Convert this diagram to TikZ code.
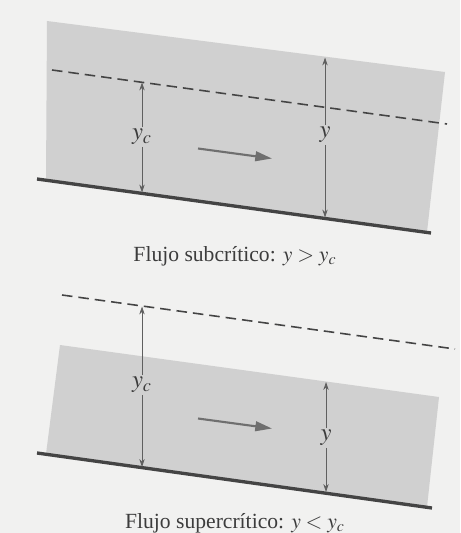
\documentclass[tikz,border=0pt]{standalone}
\usepackage{mathptmx}
\usepackage{fontspec}
\setmainfont{Liberation Serif}
\usetikzlibrary{arrows.meta}

\definecolor{paper}{RGB}{241,241,240}
\definecolor{water}{RGB}{208,208,208}
\definecolor{bedgray}{RGB}{68,68,68}
\definecolor{dimgray}{RGB}{95,95,95}
\definecolor{inkgray}{RGB}{60,60,60}

\tikzset{
	bed/.style={draw=bedgray,line width=1.9pt},
	critline/.style={draw=bedgray,line width=0.9pt,dash pattern=on 6pt off 3.4pt},
	dimline/.style={draw=dimgray,line width=0.45pt,-{Stealth[length=4.5pt,width=3pt]}},
	flow/.style={draw=dimgray!90,line width=1.2pt,-{Triangle[length=9.5pt,width=5.5pt]}},
	dimlabel/.style={fill=water,inner sep=1pt,text=inkgray,font=\fontsize{14}{16}\selectfont},
	caption/.style={anchor=base,text=inkgray,font=\fontsize{12.3}{14}\selectfont}
}

\begin{document}
\begin{tikzpicture}[x=0.02cm,y=-0.02cm]
	\fill[paper] (0,0) rectangle (460,533);
	\useasboundingbox (0,0) rectangle (460,533);

	% subcritico
	\fill[water] (47,21) -- (445,72) -- (427,232) -- (46,180) -- cycle;
	\draw[critline] (52,70) -- (447,124);
	\draw[bed] (37,179) -- (431,233);
	\coordinate (yc1top) at (142,82.5);
	\coordinate (yc1bot) at (142,192.5);
	\coordinate (y1top) at (325,57.5);
	\coordinate (y1bot) at (325,217.5);
	\node[dimlabel] (yc1) at (142,137) {$y_c$};
	\node[dimlabel] (y1) at (325,135) {$y$};
	\draw[dimline] (yc1) -- (yc1top);
	\draw[dimline] (yc1) -- (yc1bot);
	\draw[dimline] (y1) -- (y1top);
	\draw[dimline] (y1) -- (y1bot);
	\coordinate (f1a) at (198,148.5);
	\coordinate (f1b) at (272,158.5);
	\draw[flow] (f1a) -- (f1b);
	\node[caption] (cap1) at (235,261) {Flujo subcrítico: $y > y_c$};

	% supercritico
	\fill[water] (60,345) -- (439,397) -- (427,507) -- (46,454) -- cycle;
	\draw[critline] (62,295) -- (455,349);
	\draw[bed] (37,453) -- (432,508);
	\coordinate (yc2top) at (142,306.5);
	\coordinate (yc2bot) at (142,467);
	\coordinate (y2top) at (326,382);
	\coordinate (y2bot) at (326,492);
	\node[dimlabel] (yc2) at (142,385) {$y_c$};
	\node[dimlabel] (y2) at (326,438) {$y$};
	\draw[dimline] (yc2) -- (yc2top);
	\draw[dimline] (yc2) -- (yc2bot);
	\draw[dimline] (y2) -- (y2top);
	\draw[dimline] (y2) -- (y2bot);
	\coordinate (f2a) at (198,418.5);
	\coordinate (f2b) at (272,428.5);
	\draw[flow] (f2a) -- (f2b);
	\node[caption] (cap2) at (235,528) {Flujo supercrítico: $y < y_c$};
\end{tikzpicture}
\end{document}
